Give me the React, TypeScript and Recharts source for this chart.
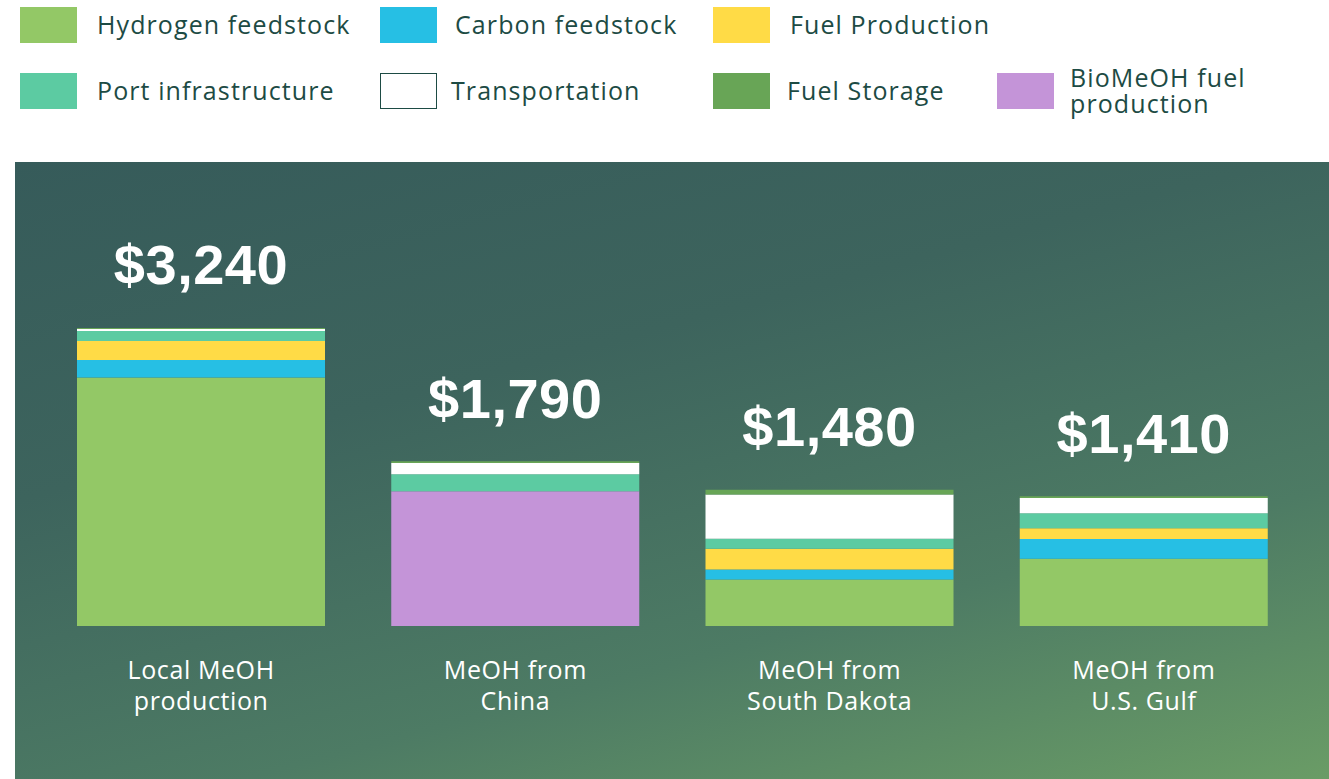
import React from "react";
import { BarChart, Bar, XAxis, YAxis, LabelList } from "recharts";

// Cost per tonne of methanol delivered, by supply route
const routes = [
  ["Local MeOH", "production"],
  ["MeOH from", "China"],
  ["MeOH from", "South Dakota"],
  ["MeOH from", "U.S. Gulf"],
];
const totals = [3240, 1790, 1480, 1410];

const hydrogen = [2700, 0, 505, 730];
const bioMeoh = [0, 1465, 0, 0];
const carbon = [190, 0, 108, 215];
const fuelProduction = [207, 0, 228, 118];
const port = [110, 185, 108, 162];
const transport = [22, 122, 480, 167];
const storage = [11, 18, 51, 18];

const series = [
  { key: "hydrogen", name: "Hydrogen feedstock", color: "#93c866", values: hydrogen },
  { key: "bio", name: "BioMeOH fuel production", color: "#c494d8", values: bioMeoh },
  { key: "carbon", name: "Carbon feedstock", color: "#26bfe4", values: carbon },
  { key: "fuel", name: "Fuel Production", color: "#ffdb46", values: fuelProduction },
  { key: "port", name: "Port infrastructure", color: "#5ccba2", values: port },
  { key: "transport", name: "Transportation", color: "#ffffff", values: transport },
  { key: "storage", name: "Fuel Storage", color: "#68a556", values: storage },
];

const data = routes.map((lines, i) => {
  const row: Record<string, any> = { route: lines.join(" "), lines, total: totals[i] };
  series.forEach((s) => (row[s.key] = s.values[i]));
  return row;
});

const TEXT = "#1d4b44";
const FONT = "'Open Sans', sans-serif";

// legend grid: [series key, swatch left, text left, row]
const legendLayout: [string, number, number, number][] = [
  ["hydrogen", 20, 97, 0],
  ["carbon", 380, 455, 0],
  ["fuel", 713, 790, 0],
  ["port", 20, 97, 1],
  ["transport", 380, 451, 1],
  ["storage", 713, 787, 1],
  ["bio", 997, 1070, 1],
];

const LegendBlock = () => (
  <div style={{ position: "absolute", left: 0, top: 0, width: 1329, height: 140 }}>
    {legendLayout.map(([key, sx, tx, row]) => {
      const s = series.find((d) => d.key === key)!;
      const top = row === 0 ? 7 : 73;
      const isBio = key === "bio";
      return (
        <React.Fragment key={key}>
          <div
            style={{
              position: "absolute",
              left: sx,
              top,
              width: 57,
              height: 36,
              boxSizing: "border-box",
              background: s.color,
              border: key === "transport" ? `1px solid ${TEXT}` : "none",
            }}
          />
          <div
            style={{
              position: "absolute",
              left: tx,
              top: isBio ? top - 13 : top - 1,
              height: isBio ? 60 : 36,
              display: "flex",
              alignItems: "center",
              fontFamily: FONT,
              fontSize: 25,
              lineHeight: "26px",
              letterSpacing: 1.1,
              color: TEXT,
              whiteSpace: "pre",
            }}
          >
            {isBio ? "BioMeOH fuel\nproduction" : s.name}
          </div>
        </React.Fragment>
      );
    })}
  </div>
);

const RouteTick = (props: any) => {
  const { x, y, payload } = props;
  const lines = data[payload.index]?.lines ?? [payload.value];
  return (
    <g>
      {lines.map((t: string, i: number) => (
        <text
          key={i}
          x={x}
          y={y + 43 + i * 31}
          textAnchor="middle"
          dominantBaseline="central"
          fill="#ffffff"
          fontFamily={FONT}
          fontSize={25}
          letterSpacing={0.6}
        >
          {t}
        </text>
      ))}
    </g>
  );
};

const TotalLabel = (props: any) => {
  const { x, y, width, index } = props;
  return (
    <text
      x={x + width / 2}
      y={y - 63}
      textAnchor="middle"
      dominantBaseline="central"
      fill="#ffffff"
      fontFamily="'Liberation Sans', Arial, sans-serif"
      fontWeight={700}
      fontSize={56}
      letterSpacing={0.5}
    >
      {"$" + totals[index].toLocaleString("en-US")}
    </text>
  );
};

export default function App() {
  return (
    <div
      style={{
        position: "absolute",
        left: 0,
        top: 0,
        width: 1329,
        height: 779,
        background: "#ffffff",
        overflow: "hidden",
      }}
    >
      <LegendBlock />
      <div
        style={{
          position: "absolute",
          left: 15,
          top: 162,
          width: 1314,
          height: 617,
          background:
            "linear-gradient(165deg, #365b5a 0%, #3d645d 35%, #4d7b64 70%, #6a9c66 100%)",
        }}
      >
        <BarChart
          width={1314}
          height={617}
          data={data}
          margin={{ top: 96, right: 28, bottom: 73, left: 29 }}
          barSize={248}
        >
          <XAxis
            dataKey="route"
            axisLine={false}
            tickLine={false}
            tickSize={0}
            tickMargin={0}
            height={80}
            interval={0}
            tick={<RouteTick />}
          />
          <YAxis hide domain={[0, 4000]} />
          {series.map((s) => (
            <Bar
              key={s.key}
              dataKey={s.key}
              name={s.name}
              stackId="cost"
              fill={s.color}
              isAnimationActive={false}
            >
              {s.key === "storage" && <LabelList dataKey="total" content={<TotalLabel />} />}
            </Bar>
          ))}
        </BarChart>
      </div>
    </div>
  );
}
